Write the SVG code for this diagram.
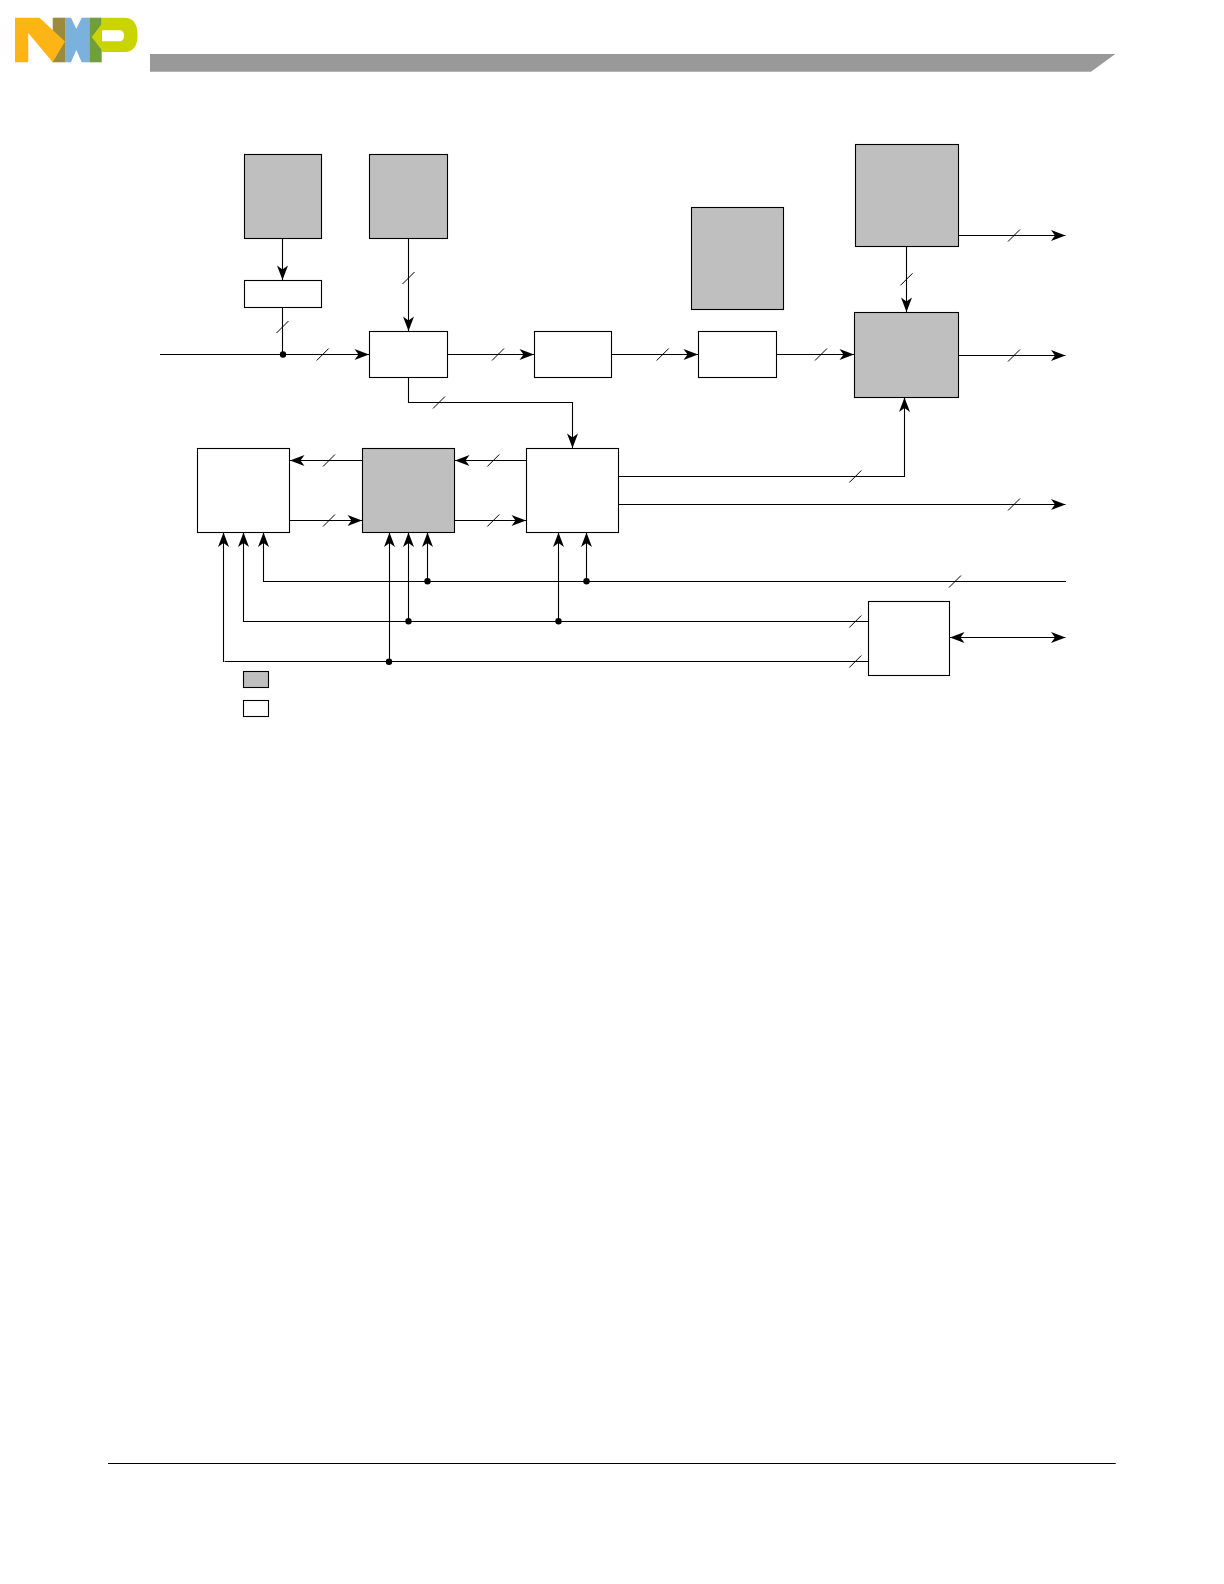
<svg xmlns="http://www.w3.org/2000/svg" xmlns:xlink="http://www.w3.org/1999/xlink" width="1224" height="1584" viewBox="0 0 1224 1584">
<style>
.g{fill:#bfbfbf;stroke:#000;stroke-width:1.1}
.w{fill:#fff;stroke:#000;stroke-width:1.1}
.c{fill:none;stroke:#000;stroke-width:1.1}
.a{marker-end:url(#ah)}
.b{marker-start:url(#ahs);marker-end:url(#ah)}
.s{stroke:#000;stroke-width:1}
</style>
<defs>
<marker id="ah" markerUnits="userSpaceOnUse" markerWidth="16" markerHeight="12" refX="15" refY="6" orient="auto"><path d="M15 6L.5 .5 4.500 6 .5 11.500Z" fill="#000"/></marker>
<marker id="ahs" markerUnits="userSpaceOnUse" markerWidth="16" markerHeight="12" refX="1" refY="6" orient="auto"><path d="M1 6L15.500 .5 11.500 6 15.500 11.500Z" fill="#000"/></marker>
<line id="sl" class="s" x1="-6" y1="6" x2="6" y2="-6"/>
<circle id="dot" r="3.200" fill="#000"/>
</defs>
<rect width="1224" height="1584" fill="#fff"/>
<g id="logo">
<path fill="#9a8b3e" d="M52.700 17.700H65.700V62.300H52.700Z"/>
<path fill="#fdb515" d="M15 17.700H39.500L65 41.500 52.700 62.300 28.300 33V62.300H15Z"/>
<path fill="#7bb2dd" d="M65.700 17.700H71L76.300 28.700 81.700 17.700H89.300V62.300H81.700L76.300 50 71 62.300H65.700Z"/>
<path fill="#6f9f3c" d="M89.300 17.700H101.700V62.300H89.300Z"/>
<path fill="#c9d400" fill-rule="evenodd" d="M91.700 37L101.700 24V17.700H125C133 17.700 137.600 24 137.600 35 137.600 46 133 52 125 52H101.700V50ZM101.700 30.300V41.300H120C125.500 41.300 125.500 30.300 120 30.300Z"/>
</g>
<path id="header-bar" fill="#999" d="M150 54H1115.300L1091 71.700H150Z"/>
<line id="footer-rule" x1="108" y1="1463.500" x2="1115.700" y2="1463.500" stroke="#000" stroke-width="1.100"/>
<g id="connectors">
<path class="c a" d="M282.500 238.300V280"/>
<path class="c" d="M282.500 307.300V354.500"/>
<path class="c a" d="M160 354.500H369"/>
<path class="c a" d="M408.500 238.300V331"/>
<path class="c a" d="M447.300 354.500H534"/>
<path class="c a" d="M611.700 354.500H698"/>
<path class="c a" d="M776.700 354.500H854"/>
<path class="c a" d="M408.500 377.300V402.500H572.500V448"/>
<path class="c a" d="M906.500 246.300V312"/>
<path class="c a" d="M958.300 235.500H1065.500"/>
<path class="c a" d="M958.300 355.500H1065.500"/>
<path class="c a" d="M618.300 476.500H904.500V397.500"/>
<path class="c a" d="M618.300 504.500H1065.500"/>
<path class="c a" d="M362.300 460.500H290"/>
<path class="c a" d="M526.300 460.500H455"/>
<path class="c a" d="M289.700 520.500H362"/>
<path class="c a" d="M454.700 520.500H526"/>
<path class="c a" d="M1066 581.500H263.500V532.500"/>
<path class="c a" d="M868.300 621.500H243.500V532.500"/>
<path class="c a" d="M223.500 662V532.500"/>
<path class="c" d="M224.600 661.500H868.300"/>
<path class="c a" d="M389.500 661.500V532.500"/>
<path class="c a" d="M408.500 621.500V532.500"/>
<path class="c a" d="M427.500 581.500V532.500"/>
<path class="c a" d="M558.500 621.500V532.500"/>
<path class="c a" d="M586.500 581.500V532.500"/>
<path class="c b" d="M950 637.500H1065.500"/>
<use xlink:href="#dot" x="283" y="354.500"/>
<use xlink:href="#dot" x="427.500" y="581.300"/>
<use xlink:href="#dot" x="586.500" y="581.300"/>
<use xlink:href="#dot" x="408.500" y="621.300"/>
<use xlink:href="#dot" x="558.500" y="621.300"/>
<use xlink:href="#dot" x="389" y="661.700"/>
<use xlink:href="#sl" x="282.500" y="327"/>
<use xlink:href="#sl" x="408.500" y="278"/>
<use xlink:href="#sl" x="322.700" y="354.500"/>
<use xlink:href="#sl" x="439" y="402.500"/>
<use xlink:href="#sl" x="498" y="354.500"/>
<use xlink:href="#sl" x="662.700" y="354.500"/>
<use xlink:href="#sl" x="821" y="354.500"/>
<use xlink:href="#sl" x="329" y="460.500"/>
<use xlink:href="#sl" x="329" y="520.500"/>
<use xlink:href="#sl" x="493.300" y="460.500"/>
<use xlink:href="#sl" x="493.300" y="520.500"/>
<use xlink:href="#sl" x="1014" y="235.500"/>
<use xlink:href="#sl" x="1014" y="355.500"/>
<use xlink:href="#sl" x="906.500" y="279.300"/>
<use xlink:href="#sl" x="855.300" y="476.500"/>
<use xlink:href="#sl" x="1014" y="504.500"/>
<use xlink:href="#sl" x="955" y="581.500"/>
<use xlink:href="#sl" x="855.300" y="621.500"/>
<use xlink:href="#sl" x="855.300" y="661.500"/>
</g>
<g id="n1"><rect class="g" x="244.500" y="154.500" width="77" height="84"/></g>
<g id="n2"><rect class="g" x="369.500" y="154.500" width="78" height="84"/></g>
<g id="n3"><rect class="w" x="244.500" y="280.500" width="77" height="27"/></g>
<g id="n4"><rect class="w" x="369.500" y="331.500" width="78" height="46"/></g>
<g id="n5"><rect class="w" x="534.500" y="331.500" width="77" height="46"/></g>
<g id="n6"><rect class="g" x="691.500" y="207.500" width="92" height="102"/></g>
<g id="n7"><rect class="w" x="698.500" y="331.500" width="78" height="46"/></g>
<g id="n8"><rect class="g" x="855.500" y="144.500" width="103" height="102"/></g>
<g id="n9"><rect class="g" x="854.500" y="312.500" width="104" height="85"/></g>
<g id="n10"><rect class="w" x="197.500" y="448.500" width="92" height="84"/></g>
<g id="n11"><rect class="g" x="362.500" y="448.500" width="92" height="84"/></g>
<g id="n12"><rect class="w" x="526.500" y="448.500" width="92" height="84"/></g>
<g id="n13"><rect class="w" x="868.500" y="601.500" width="81" height="74"/></g>
<g id="legend-gray"><rect class="g" x="243.500" y="671.500" width="25" height="16"/></g>
<g id="legend-white"><rect class="w" x="243.500" y="700.500" width="25" height="16"/></g>
</svg>
